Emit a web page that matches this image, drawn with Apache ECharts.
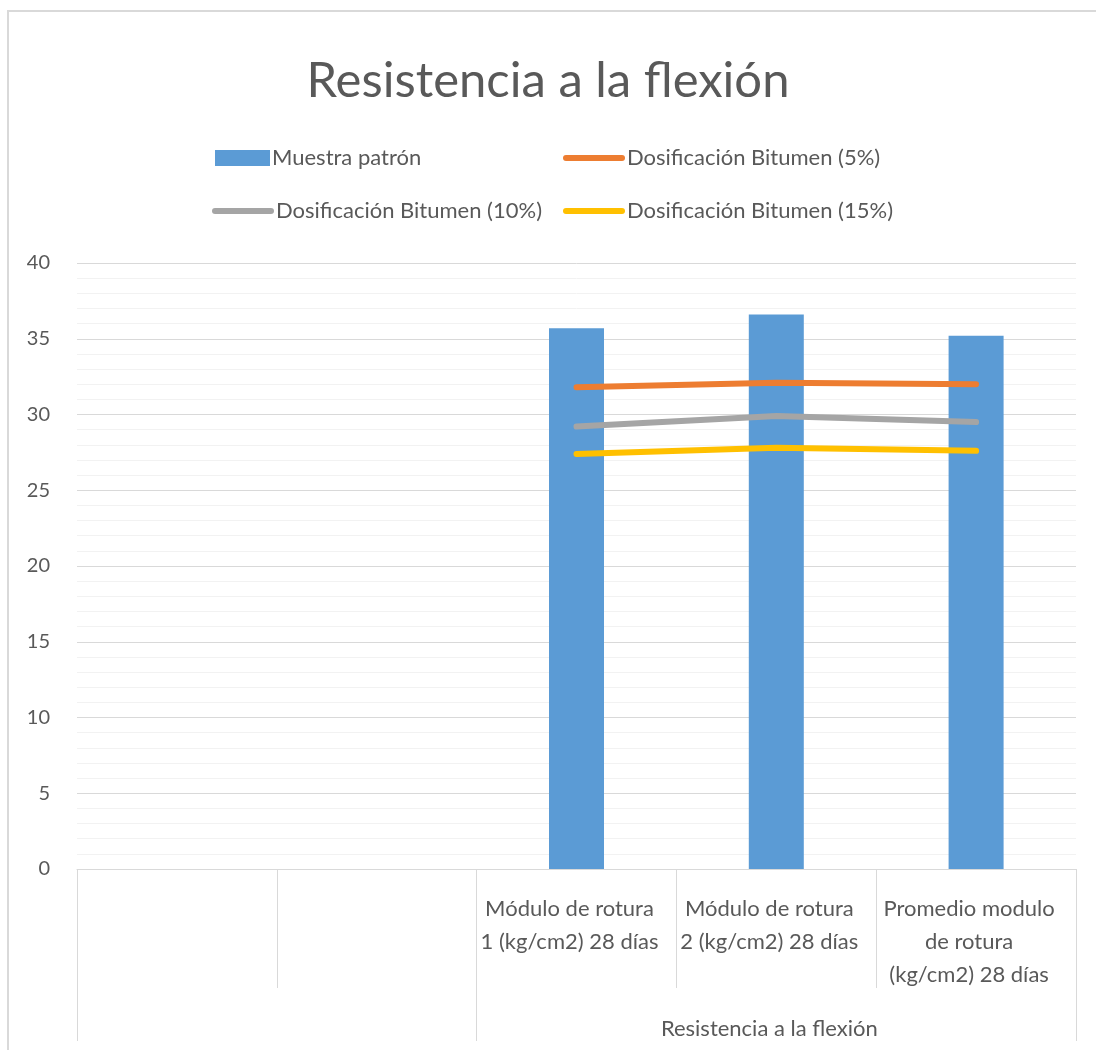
<!DOCTYPE html>
<html>
<head>
<meta charset="utf-8">
<title>Resistencia a la flexión</title>
<script src="https://cdn.jsdelivr.net/npm/echarts@6/dist/echarts.min.js"></script>
<style>
  html, body { margin: 0; padding: 0; background: #ffffff; }
  #chart { width: 1096px; height: 1050px; }
</style>
</head>
<body>
<div id="chart"></div>
<script>
// Categories (first level) and their grouping (second level)
const categories = [
  '',
  ' ',
  'Módulo de rotura\n1 (kg/cm2) 28 días',
  'Módulo de rotura\n2 (kg/cm2) 28 días',
  'Promedio modulo\nde rotura\n(kg/cm2) 28 días'
];
const groupNames = ['', 'Resistencia a la flexión'];
const groupSpans = [2, 3];

// Series values (kg/cm2)
const muestraPatron = [null, null, 35.7, 36.6, 35.2];
const bitumen5 = [null, null, 31.8, 32.1, 32.0];
const bitumen10 = [null, null, 29.2, 29.9, 29.5];
const bitumen15 = [null, null, 27.4, 27.8, 27.6];

// Value axis
const yTicks = [0, 5, 10, 15, 20, 25, 30, 35, 40];

const seriesNames = [
  'Muestra patrón',
  'Dosificación Bitumen (5%)',
  'Dosificación Bitumen (10%)',
  'Dosificación Bitumen (15%)'
];
const colors = ['#5B9BD5', '#ED7D31', '#A5A5A5', '#FFC000'];

// Group boundaries and the category at the middle of each group
const groupStarts = [];
const groupLabelAt = {};
let acc = 0;
groupSpans.forEach((span, i) => {
  groupStarts.push(acc);
  groupLabelAt[acc + Math.floor(span / 2)] = groupNames[i];
  acc += span;
});
const groupAxisData = categories.map((c, i) => groupLabelAt[i] !== undefined ? groupLabelAt[i] : '');

const textColor = '#595959';
const gridColor = '#D9D9D9';
const labelFont = 'Lato, "Open Sans", sans-serif';
const lineIcon = 'path://M3,0 L59,0 A3,3 0 0 1 59,6 L3,6 A3,3 0 0 1 3,0 Z';

const legendBase = {
  orient: 'horizontal',
  itemGap: 0,
  padding: 0,
  textStyle: { color: textColor, fontSize: 22, fontFamily: labelFont, padding: [0, 0, 0, -3] },
  selectedMode: false
};

const chart = echarts.init(document.getElementById('chart'), null, { renderer: 'canvas' });
chart.setOption({
  backgroundColor: '#ffffff',
  animation: false,
  color: colors,
  title: {
    text: 'Resistencia a la flexión',
    left: 'center',
    top: 52,
    textStyle: { color: textColor, fontSize: 49, fontWeight: 'normal', fontFamily: labelFont }
  },
  legend: [
    Object.assign({}, legendBase, { data: [seriesNames[0]], left: 215, top: 147, icon: 'rect', itemWidth: 55, itemHeight: 16 }),
    Object.assign({}, legendBase, { data: [seriesNames[1]], left: 563, top: 147, icon: lineIcon, itemWidth: 62, itemHeight: 6 }),
    Object.assign({}, legendBase, { data: [seriesNames[2]], left: 212, top: 200, icon: lineIcon, itemWidth: 62, itemHeight: 6 }),
    Object.assign({}, legendBase, { data: [seriesNames[3]], left: 563, top: 200, icon: lineIcon, itemWidth: 62, itemHeight: 6 })
  ],
  grid: { left: 77, right: 20, top: 263, bottom: 181, containLabel: false },
  xAxis: [
    {
      type: 'category',
      data: categories,
      position: 'bottom',
      axisLine: { show: true, lineStyle: { color: gridColor, width: 1 } },
      axisTick: {
        show: true,
        length: 119,
        lineStyle: { color: gridColor, width: 1 }
      },
      axisLabel: {
        interval: 0,
        margin: 23,
        color: textColor,
        fontSize: 22,
        lineHeight: 33,
        fontFamily: labelFont,
        verticalAlign: 'top',
        padding: [0, 14, 0, 0]
      },
      splitLine: { show: false }
    },
    {
      type: 'category',
      data: groupAxisData,
      position: 'bottom',
      offset: 119,
      axisLine: { show: false },
      axisTick: {
        show: true,
        length: 53,
        interval: (index) => groupStarts.indexOf(index) !== -1,
        lineStyle: { color: gridColor, width: 1 }
      },
      axisLabel: {
        interval: (index, value) => value !== '',
        margin: 30,
        color: textColor,
        fontSize: 22,
        fontFamily: labelFont,
        padding: [0, 14, 0, 0]
      },
      splitLine: { show: false }
    }
  ],
  yAxis: {
    type: 'value',
    min: yTicks[0],
    max: yTicks[yTicks.length - 1],
    interval: yTicks[1] - yTicks[0],
    axisLine: { show: false },
    axisTick: { show: false },
    axisLabel: { color: textColor, fontSize: 20, fontFamily: labelFont, margin: 27 },
    splitLine: { show: true, lineStyle: { color: gridColor, width: 1 } },
    minorTick: { show: false, splitNumber: 5 },
    minorSplitLine: { show: true, lineStyle: { color: '#F2F2F2', width: 1 } }
  },
  series: [
    {
      name: seriesNames[0],
      type: 'bar',
      data: muestraPatron,
      barWidth: 55,
      itemStyle: { color: colors[0] }
    },
    {
      name: seriesNames[1],
      type: 'line',
      data: bitumen5,
      symbol: 'none',
      lineStyle: { color: colors[1], width: 6, cap: 'round', join: 'round' },
      itemStyle: { color: colors[1] }
    },
    {
      name: seriesNames[2],
      type: 'line',
      data: bitumen10,
      symbol: 'none',
      lineStyle: { color: colors[2], width: 6, cap: 'round', join: 'round' },
      itemStyle: { color: colors[2] }
    },
    {
      name: seriesNames[3],
      type: 'line',
      data: bitumen15,
      symbol: 'none',
      lineStyle: { color: colors[3], width: 6, cap: 'round', join: 'round' },
      itemStyle: { color: colors[3] }
    }
  ],
  graphic: [
    {
      type: 'rect',
      silent: true,
      z: -1,
      shape: { x: 8, y: 11, width: 1200, height: 1200 },
      style: { fill: 'none', stroke: gridColor, lineWidth: 2 }
    }
  ]
});
</script>
</body>
</html>
